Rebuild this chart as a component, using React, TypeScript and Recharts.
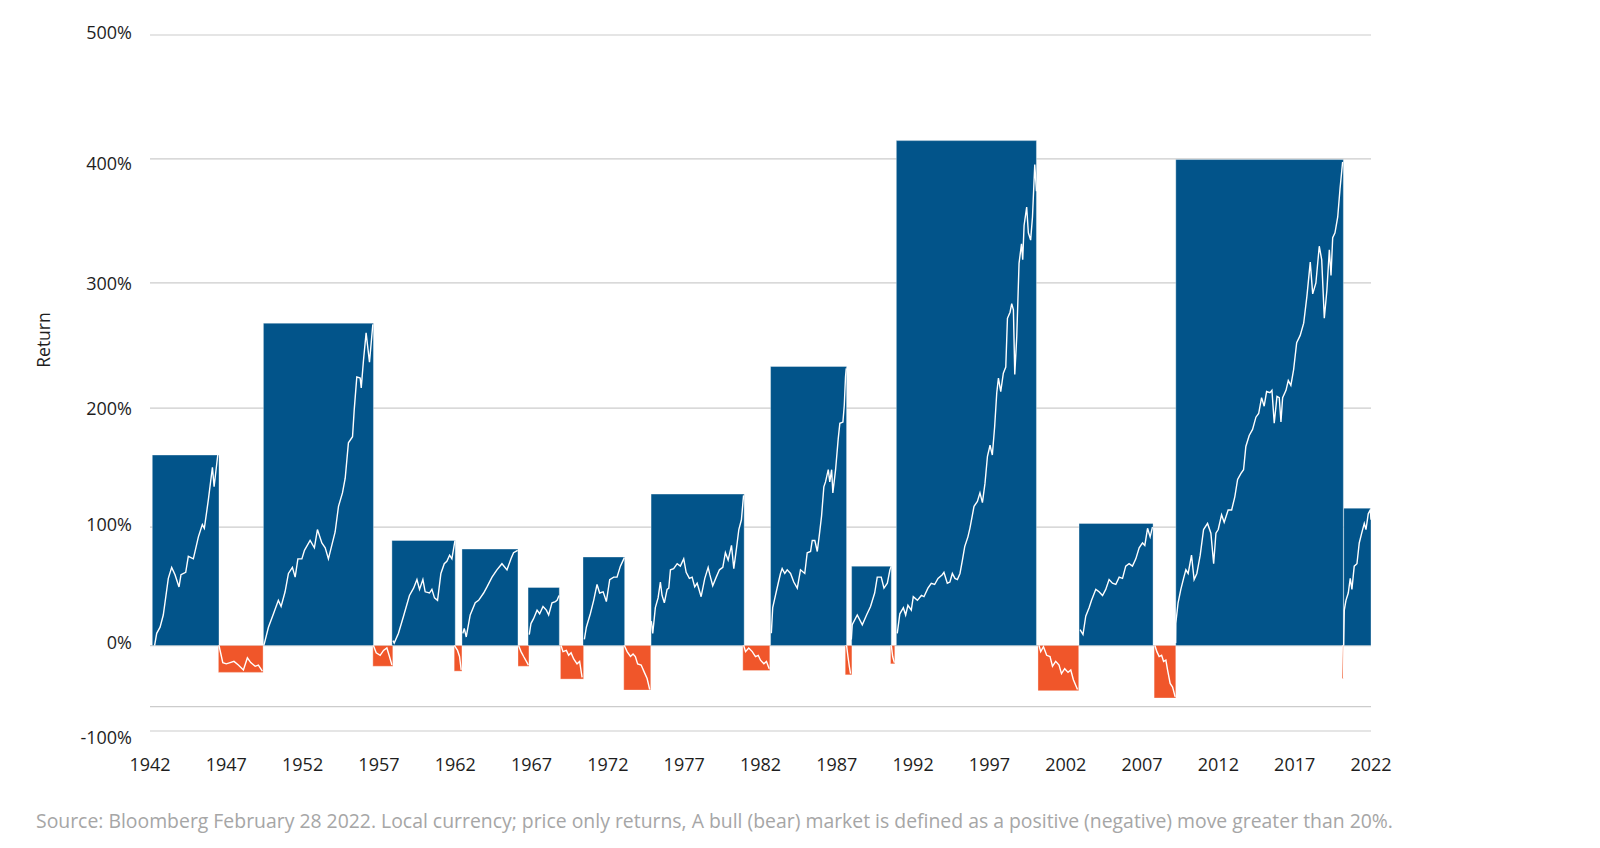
import React from 'react';
import { ComposedChart, Line, XAxis, YAxis, CartesianGrid, ReferenceArea } from 'recharts';

// bull (+) and bear (-) phases: start year, end year, total return in %
const phaseStart = [1942.15, 1946.48, 1949.43, 1956.6, 1957.85, 1961.93, 1962.44, 1966.11, 1966.77, 1968.89, 1970.37, 1973.04, 1974.83, 1980.84, 1982.66, 1987.55, 1987.97, 1990.52, 1990.9, 2000.18, 2002.87, 2007.79, 2009.21, 2020.1, 2020.21];
const phaseEnd = [1946.52, 1949.41, 1956.64, 1957.91, 1962.0, 1962.44, 1966.11, 1966.83, 1968.82, 1970.41, 1973.1, 1974.81, 1980.93, 1982.61, 1987.64, 1987.99, 1990.57, 1990.8, 2000.08, 2002.85, 2007.72, 2009.21, 2020.19, 2020.2, 2022.0];
const phaseReturn = [156, -22, 264, -17, 86, -21, 79, -17, 47.5, -27.5, 72.5, -36.5, 124, -20.5, 228.5, -24, 65, -15, 413.5, -37, 100, -43, 398, -27, 112.5];

// cumulative return path inside each phase: [year, %]
const bull1942 = [[1942.3, 0], [1942.44, 10], [1942.66, 15], [1942.87, 25], [1943.2, 55], [1943.42, 64], [1943.64, 58], [1943.9, 48], [1944.03, 58], [1944.34, 60], [1944.51, 73], [1944.84, 71], [1945.17, 89], [1945.43, 99], [1945.56, 96], [1945.82, 119], [1946.09, 146], [1946.2, 130], [1946.44, 156]];
const bear1946 = [[1946.52, 0], [1946.77, -14], [1947.0, -15], [1947.25, -14], [1947.5, -13], [1947.79, -16], [1948.12, -20], [1948.38, -10], [1948.6, -14], [1948.89, -17], [1949.1, -16], [1949.36, -21]];
const bull1949 = [[1949.45, 0], [1949.5, 2], [1949.76, 15], [1950.09, 26], [1950.41, 37], [1950.59, 32], [1950.85, 44], [1951.07, 59], [1951.33, 64], [1951.51, 56], [1951.69, 71], [1951.95, 71], [1952.12, 78], [1952.49, 86], [1952.77, 80], [1952.97, 95], [1953.26, 84], [1953.48, 80], [1953.69, 71], [1953.91, 82], [1954.13, 93], [1954.35, 114], [1954.61, 125], [1954.79, 137], [1955.0, 166], [1955.27, 171], [1955.38, 193], [1955.55, 220], [1955.77, 219], [1955.84, 211], [1955.99, 234], [1956.16, 256], [1956.38, 232], [1956.6, 263]];
const bear1956 = [[1956.64, 0], [1956.82, -6], [1957.08, -8], [1957.3, -4], [1957.52, -2], [1957.69, -9], [1957.85, -16]];
const bull1957 = [[1957.92, 4], [1958.0, 2], [1958.28, 10], [1958.61, 24], [1959.0, 41], [1959.27, 47], [1959.49, 54], [1959.66, 46], [1959.88, 54], [1960.03, 44], [1960.31, 43], [1960.47, 46], [1960.64, 39], [1960.84, 37], [1961.06, 59], [1961.28, 67], [1961.45, 69], [1961.63, 74], [1961.78, 71], [1961.98, 86]];
const bear1962 = [[1961.95, 0], [1962.15, -4], [1962.28, -9], [1962.39, -20]];
const bull1962 = [[1962.5, 10], [1962.59, 14], [1962.72, 7], [1962.98, 25], [1963.31, 35], [1963.53, 37], [1963.86, 43], [1964.08, 48], [1964.41, 56], [1964.73, 62], [1965.06, 67], [1965.39, 62], [1965.65, 71], [1965.82, 76], [1966.09, 78]];
const bear1966 = [[1966.15, 0], [1966.31, -5], [1966.48, -9], [1966.66, -13], [1966.79, -16]];
const bull1966 = [[1966.85, 9], [1966.96, 18], [1967.13, 22], [1967.36, 29], [1967.53, 26], [1967.75, 32], [1967.97, 29], [1968.12, 25], [1968.34, 35], [1968.56, 36], [1968.67, 37], [1968.8, 41]];
const bear1968 = [[1968.93, 0], [1969.06, -5], [1969.28, -4], [1969.43, -8], [1969.59, -6], [1969.76, -11], [1969.98, -15], [1970.15, -13], [1970.31, -26]];
const bull1970 = [[1970.46, 5], [1970.59, 15], [1970.85, 26], [1971.07, 37], [1971.29, 50], [1971.46, 43], [1971.69, 44], [1971.9, 36], [1972.12, 54], [1972.38, 56], [1972.6, 56], [1972.82, 65], [1973.08, 72]];
const bear1973 = [[1973.08, 0], [1973.26, -5], [1973.48, -9], [1973.65, -7], [1973.8, -9], [1973.95, -15], [1974.18, -16], [1974.39, -22], [1974.57, -27], [1974.74, -36]];
const bull1974 = [[1974.85, 20], [1974.94, 10], [1975.11, 31], [1975.29, 39], [1975.44, 52], [1975.55, 41], [1975.7, 35], [1975.88, 46], [1975.99, 47], [1976.1, 62], [1976.31, 63], [1976.54, 67], [1976.75, 65], [1976.97, 71], [1977.13, 60], [1977.34, 55], [1977.52, 56], [1977.69, 48], [1977.85, 51], [1978.11, 40], [1978.35, 55], [1978.57, 64], [1978.68, 58], [1978.87, 49], [1979.1, 56], [1979.31, 62], [1979.53, 64], [1979.7, 76], [1979.88, 70], [1980.1, 82], [1980.25, 63], [1980.43, 80], [1980.58, 95], [1980.75, 103], [1980.89, 123]];
const bear1980 = [[1980.9, 0], [1981.02, -5], [1981.23, -2], [1981.46, -5], [1981.67, -9], [1981.85, -8], [1982.0, -12], [1982.22, -15], [1982.39, -13], [1982.57, -19]];
const bull1982 = [[1982.71, 10], [1982.8, 31], [1982.98, 41], [1983.16, 51], [1983.31, 59], [1983.42, 63], [1983.59, 59], [1983.75, 62], [1983.97, 59], [1984.18, 52], [1984.41, 47], [1984.62, 62], [1984.9, 59], [1985.06, 76], [1985.28, 77], [1985.39, 86], [1985.56, 86], [1985.72, 77], [1985.87, 92], [1986.0, 106], [1986.15, 130], [1986.26, 134], [1986.44, 144], [1986.54, 134], [1986.66, 144], [1986.74, 125], [1986.92, 144], [1987.09, 169], [1987.2, 182], [1987.4, 183], [1987.49, 197], [1987.57, 220], [1987.62, 227]];
const bear1987 = [[1987.64, 0], [1987.73, -9], [1987.82, -17], [1987.9, -23]];
const bull1987 = [[1987.95, 5], [1988.01, 17], [1988.34, 25], [1988.67, 17], [1988.95, 25], [1989.21, 32], [1989.48, 43], [1989.65, 56], [1989.91, 56], [1990.09, 47], [1990.31, 51], [1990.48, 62], [1990.57, 65]];
const bear1990 = [[1990.57, 0], [1990.66, -9], [1990.77, -14]];
const bull1990 = [[1990.96, 10], [1991.13, 26], [1991.36, 31], [1991.51, 25], [1991.66, 33], [1991.88, 29], [1992.01, 40], [1992.28, 37], [1992.54, 41], [1992.71, 40], [1992.97, 47], [1993.19, 51], [1993.41, 50], [1993.63, 55], [1993.91, 58], [1994.02, 60], [1994.24, 51], [1994.41, 52], [1994.57, 59], [1994.74, 55], [1994.9, 54], [1995.07, 59], [1995.23, 70], [1995.38, 81], [1995.59, 89], [1995.72, 96], [1995.99, 114], [1996.21, 118], [1996.38, 125], [1996.54, 117], [1996.71, 133], [1996.87, 155], [1997.04, 164], [1997.19, 156], [1997.34, 179], [1997.48, 207], [1997.59, 219], [1997.74, 208], [1997.91, 223], [1998.07, 228], [1998.18, 268], [1998.35, 273], [1998.46, 280], [1998.57, 275], [1998.66, 222], [1998.79, 253], [1998.94, 313], [1999.1, 329], [1999.18, 316], [1999.27, 344], [1999.44, 359], [1999.55, 338], [1999.7, 332], [1999.82, 351], [1999.97, 394], [2000.08, 372]];
const bear2000 = [[2000.25, 0], [2000.36, -5], [2000.54, -1], [2000.75, -8], [2000.97, -9], [2001.13, -17], [2001.34, -13], [2001.56, -16], [2001.72, -23], [2001.93, -19], [2002.15, -22], [2002.33, -20], [2002.5, -28], [2002.77, -36]];
const bull2002 = [[2002.94, 13], [2003.13, 9], [2003.31, 24], [2003.53, 31], [2003.69, 37], [2003.97, 46], [2004.18, 44], [2004.41, 41], [2004.62, 46], [2004.84, 54], [2005.06, 51], [2005.28, 50], [2005.5, 56], [2005.72, 55], [2005.93, 65], [2006.15, 67], [2006.37, 65], [2006.59, 71], [2006.81, 80], [2007.03, 84], [2007.18, 82], [2007.36, 96], [2007.53, 89], [2007.68, 97]];
const bear2007 = [[2007.84, 0], [2007.97, -5], [2008.12, -9], [2008.28, -8], [2008.41, -13], [2008.56, -12], [2008.67, -20], [2008.84, -31], [2009.0, -34], [2009.17, -42]];
const bull2009 = [[2009.2, 2], [2009.21, 18], [2009.36, 35], [2009.54, 46], [2009.72, 55], [2009.87, 62], [2010.02, 59], [2010.24, 74], [2010.41, 54], [2010.59, 59], [2010.81, 74], [2011.03, 95], [2011.29, 100], [2011.51, 92], [2011.69, 67], [2011.84, 92], [2011.99, 95], [2012.21, 107], [2012.38, 101], [2012.64, 111], [2012.87, 111], [2013.08, 122], [2013.26, 136], [2013.48, 141], [2013.65, 144], [2013.8, 163], [2014.02, 172], [2014.24, 177], [2014.46, 187], [2014.64, 190], [2014.83, 203], [2015.0, 196], [2015.16, 208], [2015.38, 207], [2015.51, 209], [2015.66, 182], [2015.84, 204], [2015.99, 203], [2016.1, 183], [2016.21, 203], [2016.43, 209], [2016.58, 217], [2016.75, 213], [2016.93, 226], [2017.13, 248], [2017.36, 254], [2017.59, 264], [2017.8, 286], [2018.02, 314], [2018.18, 288], [2018.39, 297], [2018.61, 327], [2018.77, 316], [2018.94, 268], [2019.11, 291], [2019.27, 324], [2019.38, 303], [2019.49, 334], [2019.64, 338], [2019.82, 351], [2019.97, 374], [2020.14, 396]];
const bear2020 = [[2020.15, 0], [2020.17, -10], [2020.2, -27]];
const bull2020 = [[2020.21, 0], [2020.25, 29], [2020.36, 37], [2020.51, 43], [2020.64, 55], [2020.75, 46], [2020.9, 65], [2021.08, 67], [2021.23, 84], [2021.39, 92], [2021.56, 100], [2021.67, 95], [2021.82, 108], [2021.95, 111], [2022.0, 103]];

const paths = [bull1942, bear1946, bull1949, bear1956, bull1957, bear1962, bull1962, bear1966, bull1966, bear1968, bull1970, bear1973, bull1974, bear1980, bull1982, bear1987, bull1987, bear1990, bull1990, bear2000, bull2002, bear2007, bull2009, bear2020, bull2020];

const xTicks = [1942, 1947, 1952, 1957, 1962, 1967, 1972, 1977, 1982, 1987, 1992, 1997, 2002, 2007, 2012, 2017, 2022];
// gridlines sit where the source draws them (its axis is not quite even)
const yTicks = [-70, -50, 0, 97, 194.5, 297, 398.5, 500];
const yTickLabels = ['-100%', '', '0%', '100%', '200%', '300%', '400%', '500%'];

const BULL = '#02548a';
const BEAR = '#f0562a';
const FONT = '"Open Sans", "Noto Sans", sans-serif';
const labelShift = [7, 0, -3, -2, 1, 0.7, 4.5, -2];

const YTick = ({ x, y, payload }: any) => {
  const i = yTicks.indexOf(payload.value);
  return (
    <text x={x - 10} y={y + (labelShift[i] || 0)} dy="0.355em" textAnchor="end" fill="#1e1e1e" fontSize={18} fontFamily={FONT}>
      {yTickLabels[i]}
    </text>
  );
};

export default function App() {
  return (
    <div style={{ position: 'absolute', left: 0, top: 0, width: 1600, height: 848, background: '#fff', fontFamily: FONT }}>
      <ComposedChart width={1600} height={848} margin={{ top: 35, right: 229, bottom: 57, left: 0 }}>
        <CartesianGrid vertical={false} stroke="#cccccc" strokeWidth={1.2} />
        <XAxis
          type="number"
          dataKey="x"
          domain={[1942, 2022]}
          ticks={xTicks}
          interval={0}
          allowDataOverflow
          axisLine={false}
          tickLine={false}
          tickMargin={21}
          height={60}
          tick={{ fill: '#1e1e1e', fontSize: 18 }}
        />
        <YAxis
          type="number"
          domain={[-70, 500]}
          ticks={yTicks}
          interval={0}
          allowDataOverflow
          width={150}
          axisLine={false}
          tickLine={false}
          tick={YTick}
        />
        {phaseReturn.map((r, i) => (
          <ReferenceArea
            key={`phase-${i}`}
            x1={phaseStart[i]}
            x2={phaseEnd[i]}
            y1={r > 0 ? 0 : r}
            y2={r > 0 ? r : 0}
            fill={r > 0 ? BULL : BEAR}
            fillOpacity={1}
            stroke="#ffffff"
            strokeOpacity={0.35}
            strokeWidth={1}
          />
        ))}
        {paths.map((p, i) => (
          <Line
            key={`path-${i}`}
            data={p.map(([x, v]) => ({ x, v }))}
            dataKey="v"
            type="linear"
            stroke="#ffffff"
            strokeWidth={1.4}
            dot={false}
            activeDot={false}
            isAnimationActive={false}
          />
        ))}
      </ComposedChart>
      <div style={{ position: 'absolute', left: 43, top: 340, transform: 'translate(-50%, -50%) rotate(-90deg)', fontSize: 17.5, color: '#1e1e1e', whiteSpace: 'nowrap' }}>
        Return
      </div>
      <div style={{ position: 'absolute', left: 36, top: 808, fontSize: 19.4, color: '#a6a6a6', whiteSpace: 'nowrap', lineHeight: '26px' }}>
        Source: Bloomberg February 28 2022. Local currency; price only returns, A bull (bear) market is defined as a positive (negative) move greater than 20%.
      </div>
    </div>
  );
}
